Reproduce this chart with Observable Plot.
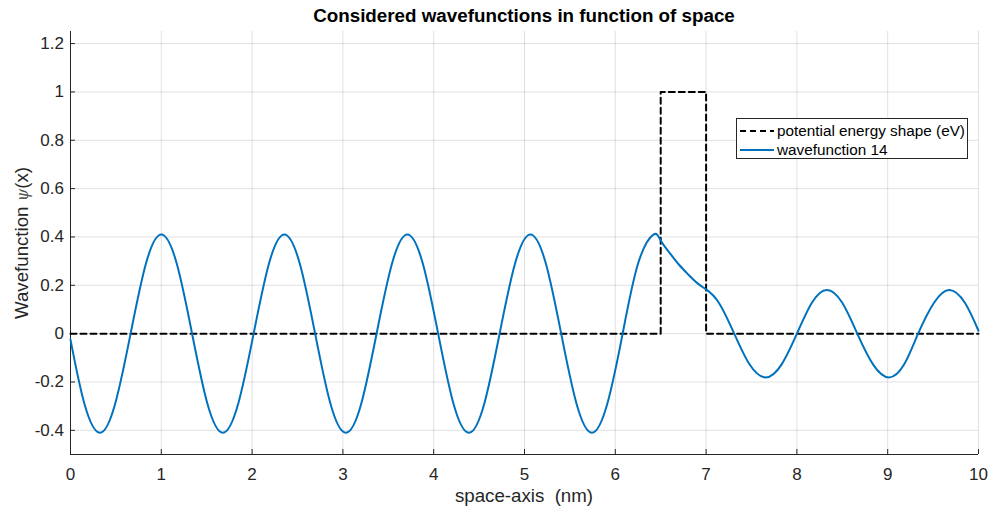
<!DOCTYPE html>
<html>
<head>
<meta charset="utf-8">
<script src="https://cdn.jsdelivr.net/npm/d3@7"></script>
<script src="https://cdn.jsdelivr.net/npm/@observablehq/plot@0.6"></script>
<style>
  html, body { margin: 0; padding: 0; background: #fff; }
  #wrap { position: relative; width: 990px; height: 511px; font-family: "Liberation Sans", Arial, sans-serif; color: #262626; }
  #title { position: absolute; left: 70px; width: 908px; top: 5px; text-align: center; font-weight: bold; font-size: 18.8px; color: #000; white-space: nowrap; }
  #xlabel { position: absolute; left: 70px; width: 908px; top: 485px; text-align: center; font-size: 18.7px; white-space: pre; }
  #ylabel { position: absolute; left: 22px; top: 243px; transform: translate(-50%, -50%) rotate(-90deg); font-size: 18.7px; white-space: nowrap; }
  #ylabel .psi { font-family: "DejaVu Serif", serif; font-style: italic; font-size: 16px; color: #555; }
  #legend { position: absolute; left: 736px; top: 118px; width: 232px; height: 41px; border: 1px solid #262626; background: #fff; box-sizing: border-box; font-size: 15.3px; }
  .row { position: absolute; left: 3px; height: 20px; display: flex; align-items: center; white-space: nowrap; color: #000; }
  .row svg { margin-right: 3px; }
</style>
</head>
<body>
<div id="wrap">
  <div id="chart"></div>
  <div id="title">Considered wavefunctions in function of space</div>
  <div id="xlabel">space-axis  (nm)</div>
  <div id="ylabel">Wavefunction <span class="psi">ψ</span>(x)</div>
  <div id="legend"></div>
</div>
<script>
// ---- data ----
const xTicks = [0, 1, 2, 3, 4, 5, 6, 7, 8, 9, 10];
const yTicks = [-0.4, -0.2, 0, 0.2, 0.4, 0.6, 0.8, 1, 1.2];
const xDomain = [0, 10];
const yDomain = [-0.5, 1.25];

// potential energy shape (eV)
const potX = [0, 6.5, 6.5, 7, 7, 10];
const potY = [0, 0, 1, 1, 0, 0];

// wavefunction 14
const waveX = [0, 0.153, 0.323, 0.492, 0.662, 0.831, 1.0, 1.17, 1.339, 1.508, 1.678, 1.847,
  2.017, 2.186, 2.355, 2.525, 2.694, 2.863, 3.033, 3.202, 3.371, 3.541, 3.71, 3.88,
  4.049, 4.218, 4.388, 4.557, 4.726, 4.896, 5.065, 5.235, 5.404, 5.573, 5.743, 5.912,
  6.081, 6.251, 6.42, 6.5, 6.6, 6.7, 6.8, 6.9, 7.0,
  7.14, 7.31, 7.48, 7.655, 7.83, 8.0, 8.165, 8.33, 8.5, 8.665, 8.84, 9.015, 9.18, 9.335,
  9.51, 9.68, 9.85, 10.0];
const waveY = [-0.025, -0.29, -0.41, -0.29, 0, 0.29, 0.41, 0.29, 0, -0.29, -0.41, -0.29,
  0, 0.29, 0.41, 0.29, 0, -0.29, -0.41, -0.29, 0, 0.29, 0.41, 0.29,
  0, -0.29, -0.41, -0.29, 0, 0.29, 0.41, 0.29, 0, -0.29, -0.41, -0.29,
  0, 0.29, 0.41, 0.385, 0.333, 0.286, 0.246, 0.21, 0.183,
  0.128, 0, -0.128, -0.181, -0.128, 0, 0.128, 0.181, 0.128, 0, -0.128, -0.181, -0.128, 0,
  0.128, 0.181, 0.128, 0.012];

const seriesNames = ["potential energy shape (eV)", "wavefunction 14"];
const seriesColors = ["#000000", "#0072BD"];

const potential = potX.map((x, i) => ({x, y: potY[i]}));
const wave = waveX.map((x, i) => ({x, y: waveY[i]}));

const fmt = d => String(Math.round(d * 10) / 10);

const chart = Plot.plot({
  width: 990,
  height: 511,
  marginLeft: 70,
  marginRight: 12,
  marginTop: 31,
  marginBottom: 57,
  style: {fontFamily: "'Liberation Sans', Arial, sans-serif", background: "#fff", color: "#262626"},
  x: {domain: xDomain},
  y: {domain: yDomain},
  marks: [
    Plot.gridX(xTicks, {stroke: "#000", strokeOpacity: 0.12}),
    Plot.gridY(yTicks, {stroke: "#000", strokeOpacity: 0.12}),
    Plot.ruleX([xDomain[0]], {stroke: "#262626", strokeWidth: 1}),
    Plot.ruleY([yDomain[0]], {stroke: "#262626", strokeWidth: 1}),
    Plot.axisX(xTicks, {tickSize: -5, tickPadding: 18, tickFormat: fmt, fontSize: 17, fill: "#262626", stroke: "#262626", label: null}),
    Plot.axisY(yTicks, {tickSize: -5, tickPadding: 11.5, tickFormat: fmt, fontSize: 17, fill: "#262626", stroke: "#262626", label: null}),
    Plot.line(potential, {x: "x", y: "y", stroke: seriesColors[0], strokeWidth: 2, strokeDasharray: "6,4"}),
    Plot.line(wave, {x: "x", y: "y", stroke: seriesColors[1], strokeWidth: 2, curve: "natural"})
  ]
});
document.getElementById("chart").appendChild(chart);

// legend
const legend = document.getElementById("legend");
seriesNames.forEach((name, i) => {
  const row = document.createElement("div");
  row.className = "row";
  row.style.top = (i === 0 ? 2 : 21) + "px";
  const dash = i === 0 ? 'stroke-dasharray="6,4"' : "";
  row.innerHTML = `<svg width="34" height="4"><line x1="0" y1="2" x2="34" y2="2" stroke="${seriesColors[i]}" stroke-width="2" ${dash}/></svg><span>${name}</span>`;
  legend.appendChild(row);
});
</script>
</body>
</html>
